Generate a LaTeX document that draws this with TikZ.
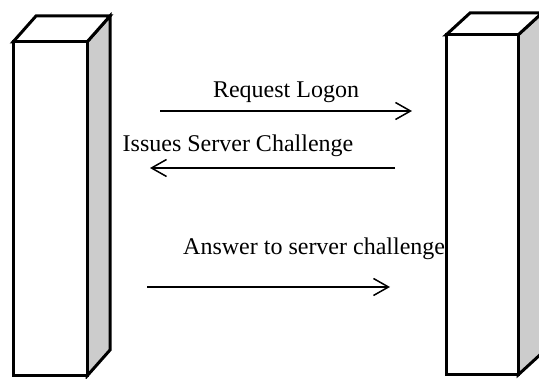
\documentclass[tikz,border=0pt]{standalone}
\usepackage{fontspec}
\setmainfont{Liberation Serif}
\usetikzlibrary{arrows.meta}

\begin{document}
\begin{tikzpicture}
[x=1pt, y=-1pt, line join=miter,
%every node/.style={anchor=center},
every node/.style={font=\fontsize{24}{28}\selectfont, inner sep=0pt, anchor=base},
box/.style={draw, line width=3pt, fill=white},
side/.style={draw, line width=3pt, fill=black!20},
msg/.style={draw, line width=1.5pt, -{Straight Barb[length=15pt, width=17pt, line width=1.5pt]}}
]
\useasboundingbox (0,0) rectangle (539,379);
\clip (0,0) rectangle (539,379);

% end points of the messages
\path
(160,111) coordinate (s1) (412,111) coordinate (e1)
(395,168) coordinate (s2) (150,168) coordinate (e2)
(147,287) coordinate (s3) (390,287) coordinate (e3)
;

% message labels
\path
(286,98) node (m1) {Request Logon}
(238,152) node (m2) {Issues Server Challenge}
(183,255) node[anchor=base west] (m3) {Answer to server challenge}
;

\foreach \x in {1,2,3}
{\draw[msg] (s\x) -- (e\x);}

% client and server boxes
\foreach \a/\b/\c/\d/\w/\h in {13/42/87/376/23/26, 446/35/518/375/24/22}
{
\draw[side] (\c,\b) -- ++(\w,-\h) -- (\c+\w,\d-\h) -- (\c,\d) -- cycle;
\draw[box] (\a,\b) -- ++(\w,-\h) -- (\c+\w,\b-\h) -- (\c,\b) -- cycle;
\draw[box] (\a,\b) rectangle (\c,\d);
}

\end{tikzpicture}
\end{document}
